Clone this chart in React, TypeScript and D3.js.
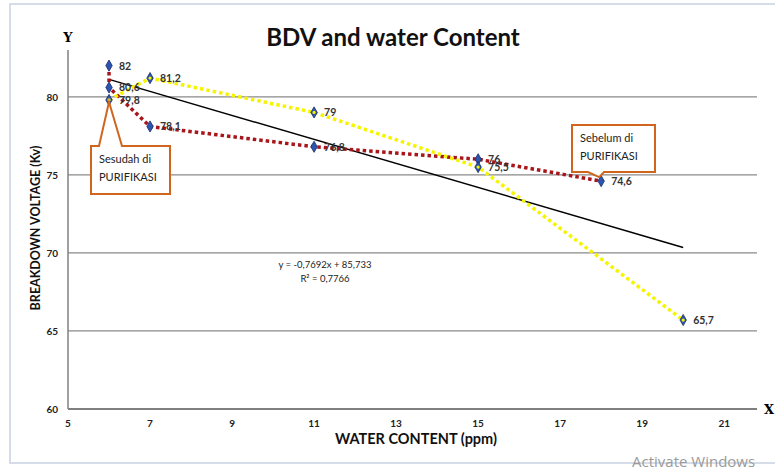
import React, { useEffect, useRef } from "react";
import * as d3 from "d3";

interface Pt {
  x: number;
  y: number;
  label: string;
}

// Sebelum di purifikasi (red dotted)
const sebelumX = [6, 6, 7, 11, 15, 18];
const sebelumY = [82, 80.6, 78.1, 76.8, 76, 74.6];
const sebelumLabels = ["82", "80,6", "78,1", "76,8", "76", "74,6"];

// Sesudah di purifikasi (yellow dotted)
const sesudahX = [6, 7, 11, 15, 20];
const sesudahY = [79.8, 81.2, 79, 75.5, 65.7];
const sesudahLabels = ["79,8", "81,2", "79", "75,5", "65,7"];

// linear trend line
const trendSlope = -0.7692;
const trendIntercept = 85.733;
const trendRange = [6, 20];

const xTicks = [5, 7, 9, 11, 13, 15, 17, 19, 21];
const yTicks = [60, 65, 70, 75, 80];
const yGrid = [65, 70, 75, 80];

const width = 775;
const height = 468;

const App: React.FC = () => {
  const ref = useRef<SVGSVGElement>(null);

  useEffect(() => {
    const svg = d3.select(ref.current);
    svg.selectAll("*").remove();

    const font = "Lato, 'Open Sans', sans-serif";
    const x = d3.scaleLinear().domain([5, 21.8]).range([68, 757]);
    const y = d3.scaleLinear().domain([60, 83]).range([409, 50]);

    // outer frame
    svg
      .append("path")
      .attr("d", `M${width},4 H10 V463 H${width}`)
      .attr("fill", "none")
      .attr("stroke", "#c9d2e2")
      .attr("stroke-width", 1.5);

    // grid
    svg
      .append("g")
      .selectAll("line")
      .data(yGrid)
      .join("line")
      .attr("x1", x(5))
      .attr("x2", x(21.8))
      .attr("y1", (d) => y(d))
      .attr("y2", (d) => y(d))
      .attr("stroke", "#8a8a8a")
      .attr("stroke-width", 1.2);

    // axes
    svg
      .append("line")
      .attr("x1", x(5))
      .attr("x2", x(5))
      .attr("y1", y(83))
      .attr("y2", y(60))
      .attr("stroke", "#808080")
      .attr("stroke-width", 1.5);
    svg
      .append("line")
      .attr("x1", x(5))
      .attr("x2", x(21.8))
      .attr("y1", y(60))
      .attr("y2", y(60))
      .attr("stroke", "#808080")
      .attr("stroke-width", 2);

    svg
      .append("g")
      .selectAll("text")
      .data(yTicks)
      .join("text")
      .attr("x", 58)
      .attr("y", (d) => y(d) + 4)
      .attr("text-anchor", "end")
      .attr("font-family", font)
      .attr("font-size", 10)
      .attr("font-weight", "bold")
      .attr("fill", "#222")
      .text((d) => d);

    svg
      .append("g")
      .selectAll("text")
      .data(xTicks)
      .join("text")
      .attr("x", (d) => x(d))
      .attr("y", 427)
      .attr("text-anchor", "middle")
      .attr("font-family", font)
      .attr("font-size", 10)
      .attr("font-weight", "bold")
      .attr("fill", "#222")
      .text((d) => d);

    // axis titles
    svg
      .append("text")
      .attr("x", 416)
      .attr("y", 444)
      .attr("text-anchor", "middle")
      .attr("font-family", font)
      .attr("font-size", 14.5)
      .attr("font-weight", "bold")
      .attr("fill", "#111")
      .text("WATER CONTENT (ppm)");
    svg
      .append("text")
      .attr("transform", "translate(40,228) rotate(-90)")
      .attr("text-anchor", "middle")
      .attr("font-family", font)
      .attr("font-size", 12.5)
      .attr("font-weight", "bold")
      .attr("fill", "#111")
      .text("BREAKDOWN VOLTAGE (Kv)");

    svg
      .append("text")
      .attr("x", 68)
      .attr("y", 42)
      .attr("text-anchor", "middle")
      .attr("font-family", "'DejaVu Serif', serif")
      .attr("font-size", 13)
      .attr("font-weight", "bold")
      .text("Y");
    svg
      .append("text")
      .attr("x", 769)
      .attr("y", 414)
      .attr("text-anchor", "middle")
      .attr("font-family", "'DejaVu Serif', serif")
      .attr("font-size", 13)
      .attr("font-weight", "bold")
      .text("X");

    // title
    svg
      .append("text")
      .attr("x", 393)
      .attr("y", 46)
      .attr("text-anchor", "middle")
      .attr("font-family", font)
      .attr("font-size", 24)
      .attr("font-weight", "bold")
      .attr("fill", "#111")
      .text("BDV and water Content");

    // trend line
    svg
      .append("line")
      .attr("x1", x(trendRange[0]))
      .attr("y1", y(trendSlope * trendRange[0] + trendIntercept))
      .attr("x2", x(trendRange[1]))
      .attr("y2", y(trendSlope * trendRange[1] + trendIntercept))
      .attr("stroke", "#000")
      .attr("stroke-width", 1.5);

    svg
      .append("text")
      .attr("x", 325)
      .attr("y", 268)
      .attr("text-anchor", "middle")
      .attr("font-family", font)
      .attr("font-size", 9.5)
      .attr("fill", "#222")
      .text("y = -0,7692x + 85,733");
    svg
      .append("text")
      .attr("x", 325)
      .attr("y", 282)
      .attr("text-anchor", "middle")
      .attr("font-family", font)
      .attr("font-size", 9.5)
      .attr("fill", "#222")
      .text("R² = 0,7766");

    const series = [
      {
        pts: sebelumX.map((v, i) => ({ x: v, y: sebelumY[i], label: sebelumLabels[i] })),
        color: "#a8161b",
        inner: null as string | null,
      },
      {
        pts: sesudahX.map((v, i) => ({ x: v, y: sesudahY[i], label: sesudahLabels[i] })),
        color: "#f5f500",
        inner: "#f5f500",
      },
    ];

    const line = d3
      .line<Pt>()
      .x((d) => x(d.x))
      .y((d) => y(d.y));

    series.forEach((s) => {
      svg
        .append("path")
        .datum(s.pts)
        .attr("d", line)
        .attr("fill", "none")
        .attr("stroke", s.color)
        .attr("stroke-width", 3.5)
        .attr("stroke-dasharray", "3.5,3");
    });

    const diamond = d3.symbol().type(d3.symbolDiamond).size(36);
    series.forEach((s) => {
      const g = svg.append("g");
      s.pts.forEach((p) => {
        g.append("path")
          .attr("d", diamond)
          .attr("transform", `translate(${x(p.x)},${y(p.y)})`)
          .attr("fill", "#2b55b0")
          .attr("stroke", "#1a2f6a")
          .attr("stroke-width", 0.8);
        if (s.inner) {
          g.append("circle")
            .attr("cx", x(p.x))
            .attr("cy", y(p.y))
            .attr("r", 1.6)
            .attr("fill", s.inner);
        }
        g.append("text")
          .attr("x", x(p.x) + 10)
          .attr("y", y(p.y) + 4)
          .attr("font-family", font)
          .attr("font-size", 10.5)
          .attr("font-weight", "bold")
          .attr("fill", "#333")
          .text(p.label);
      });
    });

    // callouts
    const callout = (bx: number, by: number, path: string, lines: string[]) => {
      svg
        .append("path")
        .attr("d", path)
        .attr("fill", "#fff")
        .attr("stroke", "#d0661e")
        .attr("stroke-width", 2);
      lines.forEach((t, i) => {
        svg
          .append("text")
          .attr("x", bx + 8)
          .attr("y", by + 17 + i * 18)
          .attr("font-family", font)
          .attr("font-size", 11)
          .attr("fill", "#222")
          .text(t);
      });
    };

    // Sesudah box: pointer from top edge to the 79,8 point
    const tipA = [x(6), y(79.8) + 2];
    callout(
      91,
      146,
      `M91,146 H99 L${tipA[0]},${tipA[1]} L122,146 H170 V194 H91 Z`,
      ["Sesudah di", "PURIFIKASI"]
    );

    // Sebelum box: pointer from bottom edge to the 74,6 point
    const tipB = [x(18) - 2, y(74.6) - 4];
    callout(
      572,
      125,
      `M572,125 H655 V172 H604 L${tipB[0]},${tipB[1]} L588,172 H572 Z`,
      ["Sebelum di", "PURIFIKASI"]
    );

    // watermark
    svg
      .append("text")
      .attr("x", 632)
      .attr("y", 467)
      .attr("font-family", "'Open Sans', sans-serif")
      .attr("font-size", 15)
      .attr("fill", "#9a9a9a")
      .text("Activate Windows");
  }, []);

  return (
    <svg
      ref={ref}
      width={width}
      height={height}
      style={{ position: "absolute", left: 0, top: 0, background: "#fff" }}
    />
  );
};

export default App;
